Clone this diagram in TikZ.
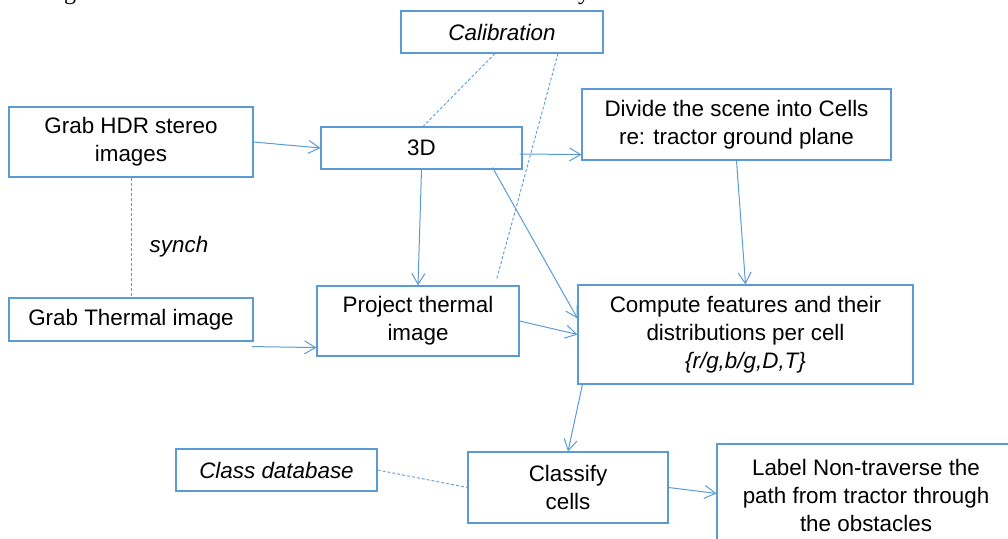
\documentclass[tikz,border=0pt]{standalone}
\usepackage{fontspec}
\setmainfont{Liberation Sans}
\newfontfamily\capfont{Liberation Serif}
\usetikzlibrary{arrows.meta,calc}
\definecolor{boxblue}{RGB}{91,155,213}
\begin{document}
\begin{tikzpicture}[x=1pt,y=-1pt,
  box/.style={draw=boxblue, line width=1.1pt, fill=white, inner sep=0pt, align=center,
    font=\fontsize{22.4}{28}\selectfont},
  txt/.style={inner sep=0pt, align=center, font=\fontsize{22.4}{28}\selectfont},
  conn/.style={draw=boxblue, line width=1pt, -{Straight Barb[length=11pt,width=13pt,line width=1pt]}},
  dashline/.style={draw=boxblue, line width=0.9pt, dash pattern=on 3pt off 2pt},
]
\useasboundingbox (0,0) rectangle (1008,538);

% clipped fragments of a caption line above the picture
\node[inner sep=0pt, anchor=base, font=\capfont\fontsize{24}{28}\selectfont] (capg) at (70,-1) {g};
\node[inner sep=0pt, anchor=base, font=\capfont\fontsize{24}{28}\selectfont] (capy) at (584,-1) {y};

% boxes
\node[box, minimum width=202pt, minimum height=42pt] (calib) at (502,32) {\itshape Calibration};
\node[box, minimum width=244pt, minimum height=70pt] (hdr) at (131,142) {Grab HDR stereo\\images};
\node[box, minimum width=201pt, minimum height=42pt] (d3) at (421.5,148) {3D};
\node[box, minimum width=309pt, minimum height=71pt] (divide) at (736.5,124.5) {Divide the scene into Cells\\re: tractor ground plane};
\node[box, minimum width=244pt, minimum height=43pt] (thermal) at (131,319.5) {Grab Thermal image};
\node[box, minimum width=202pt, minimum height=70pt] (proj) at (418,321) {Project thermal\\image};
\node[box, minimum width=335pt, minimum height=99pt] (compute) at (745.5,334.5) {Compute features and their\\distributions per cell\\\textit{\{r/g,b/g,D,T\}}};
\node[box, minimum width=201pt, minimum height=42pt] (classdb) at (276.5,470) {\itshape Class database};
\node[box, minimum width=200pt, minimum height=71pt] (classify) at (568,487.5) {Classify\\cells};
\node[box, minimum width=298pt, minimum height=102pt] (label) at (866,495) {Label Non-traverse the\\path from tractor through\\the obstacles};

\node[txt] (synch) at (179,247) {\itshape synch};

% arrows
\draw[conn] (hdr.east) -- (d3.west);
\draw[conn] ($(d3.east)+(-3,6)$) -- ($(divide.south west)+(0,-6)$);
\draw[conn] (d3.south) -- (proj.north);
\draw[conn] ($(d3.south east)+(-30,-2)$) -- ($(compute.north west)+(0,34)$);
\draw[conn] (proj.east) -- (compute.west);
\draw[conn] ($(thermal.south east)+(-2,5)$) -- ($(proj.south west)+(0,-9)$);
\draw[conn] (divide.south) -- (compute.north);
\draw[conn] ($(compute.south west)+(5,0)$) -- (classify.north);
\draw[conn] (classify.east) -- ($(label.north west)+(0,50)$);

% dashed links
\draw[dashline] (hdr.south) -- (thermal.north);
\draw[dashline] ($(calib.south)+(-7,0)$) -- ($(d3.north)+(1.5,0)$);
\draw[dashline] ($(calib.south)+(56,0)$) -- ($(proj.north east)+(-23,-6)$);
\draw[dashline] (classdb.east) -- (classify.west);
\end{tikzpicture}
\end{document}
